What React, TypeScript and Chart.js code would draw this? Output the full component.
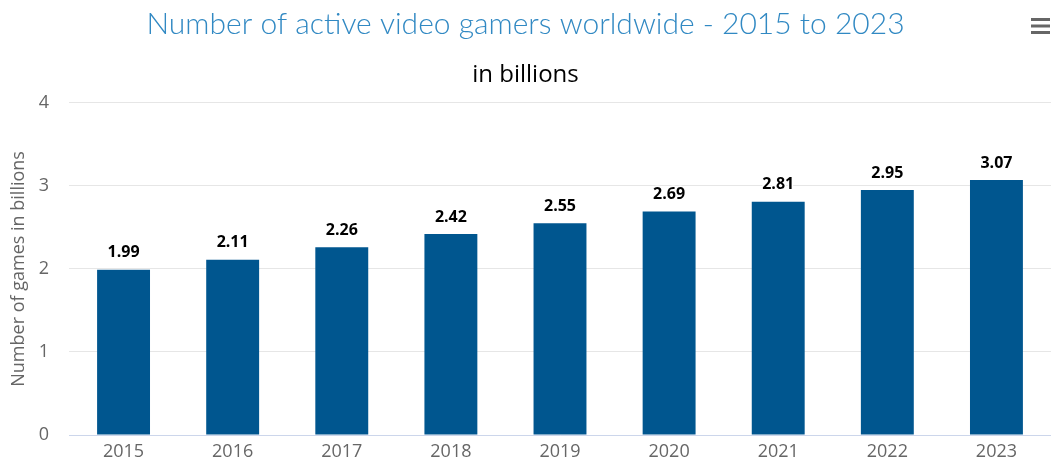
import React, { useEffect, useRef } from "react";
import { Chart, registerables } from "chart.js";

Chart.register(...registerables);

const categories = ["2015", "2016", "2017", "2018", "2019", "2020", "2021", "2022", "2023"];
const gamers = [1.99, 2.11, 2.26, 2.42, 2.55, 2.69, 2.81, 2.95, 3.07];
const yTicks = [0, 1, 2, 3, 4];

const TITLE = "Number of active video gamers worldwide - 2015 to 2023";
const SUBTITLE = "in billions";
const Y_TITLE = "Number of games in billions";

const dataLabelPlugin = {
  id: "dataLabels",
  afterDatasetsDraw(chart: any) {
    const ctx = chart.ctx;
    const meta = chart.getDatasetMeta(0);
    ctx.save();
    ctx.font = "bold 16px 'Open Sans'";
    ctx.textAlign = "center";
    ctx.textBaseline = "middle";
    ctx.lineJoin = "round";
    ctx.lineWidth = 3;
    ctx.strokeStyle = "#ffffff";
    ctx.fillStyle = "#000000";
    meta.data.forEach((el: any, i: number) => {
      const txt = gamers[i].toFixed(2);
      ctx.strokeText(txt, el.x, el.y - 17);
      ctx.fillText(txt, el.x, el.y - 17);
    });
    ctx.restore();
  },
};

const menuPlugin = {
  id: "menuIcon",
  afterDraw(chart: any) {
    const ctx = chart.ctx;
    ctx.save();
    ctx.strokeStyle = "#666666";
    ctx.lineWidth = 3;
    ctx.lineCap = "butt";
    [19.5, 26, 32.5].forEach((y) => {
      ctx.beginPath();
      ctx.moveTo(1031, y);
      ctx.lineTo(1050, y);
      ctx.stroke();
    });
    ctx.restore();
  },
};

export default function App() {
  const ref = useRef<HTMLCanvasElement>(null);
  useEffect(() => {
    document.body.style.margin = "0";
    if (!ref.current) return;
    const chart = new Chart(ref.current, {
      type: "bar",
      data: {
        labels: categories,
        datasets: [
          {
            data: gamers,
            backgroundColor: "#00568f",
            borderWidth: 0,
            barPercentage: 0.485,
            categoryPercentage: 1,
          },
        ],
      },
      options: {
        animation: false,
        responsive: true,
        maintainAspectRatio: false,
        devicePixelRatio: 1,
        layout: { padding: { left: 0, right: 0, top: 0, bottom: 0 } },
        plugins: {
          legend: { display: false },
          tooltip: { enabled: false },
          title: {
            display: true,
            text: TITLE,
            color: "#3189c3",
            font: { family: "Lato", size: 30, weight: "300" as any, lineHeight: 1.2 },
            padding: { top: 6, bottom: 8 },
          },
          subtitle: {
            display: true,
            text: SUBTITLE,
            color: "#000000",
            font: { family: "'Open Sans'", size: 24, weight: "normal" as any, lineHeight: 1.2 },
            padding: { top: 11, bottom: 13 },
          },
        },
        scales: {
          x: {
            afterFit(scale: any) {
              scale.height = 27;
            },
            grid: { display: false, drawTicks: false },
            border: { display: true, color: "#ccd6eb", width: 1 },
            ticks: {
              color: "#666666",
              font: { family: "'Open Sans'", size: 18 },
              padding: 6,
              maxRotation: 0,
            },
          },
          y: {
            min: 0,
            max: 4,
            afterBuildTicks(scale: any) {
              scale.ticks = yTicks.map((v) => ({ value: v }));
            },
            afterFit(scale: any) {
              scale.width = 69;
              scale.paddingBottom = 11;
              scale.paddingTop = 11;
            },
            grid: { color: "#e6e6e6", drawTicks: false },
            border: { display: false },
            ticks: {
              color: "#666666",
              font: { family: "'Open Sans'", size: 18 },
              padding: 20,
            },
            title: {
              display: true,
              text: Y_TITLE,
              color: "#666666",
              font: { family: "'Open Sans'", size: 18 },
              padding: { top: 8, bottom: 0 },
            },
          },
        },
      },
      plugins: [dataLabelPlugin, menuPlugin],
    });
    return () => chart.destroy();
  }, []);
  return (
    <div style={{ position: "relative", width: "1051px", height: "462px" }}>
      <canvas ref={ref} />
    </div>
  );
}
